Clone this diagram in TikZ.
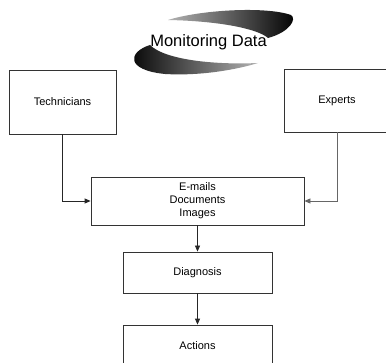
\documentclass[tikz,border=0pt]{standalone}
\usepackage{fontspec}
\setmainfont{Liberation Sans}
\usetikzlibrary{arrows.meta}
\begin{document}
\begin{tikzpicture}[x=1pt,y=1pt,
  box/.style={draw=black!80, line width=0.8pt, fill=white, inner sep=0pt, font=\fontsize{11}{13}\selectfont, align=center},
  conn/.style={line width=0.8pt, draw=black!85, -{Triangle[length=6pt,width=5pt]}},
  swoosh/.style={draw=none}]
\useasboundingbox (0,0) rectangle (386,362);
\clip (0,0) rectangle (386,362);
\fill[white] (0,0) rectangle (386,362);
% swoosh
\path[swoosh, left color=gray!60, middle color=white, right color=black]
  (168,342) .. controls (200,352) and (265,356) .. (291,347)
  .. controls (297,343) and (290,330) .. (268,324)
  .. controls (258,333) and (220,341) .. (168,342) -- cycle;
\path[swoosh, left color=black, middle color=white, right color=gray!60]
  (258,299) .. controls (215,297) and (165,302) .. (150,317)
  .. controls (128,310) and (125,292) .. (165,288)
  .. controls (200,286) and (235,292) .. (258,299) -- cycle;
\node[anchor=base, font=\fontsize{16.5}{18}\selectfont, inner sep=0pt] (title) at (208.5,315.5) {Monitoring Data};
% boxes
\node[box, minimum width=107pt, minimum height=64pt] (tech) at (62.5,260) {Technicians};
\node[box, minimum width=106pt, minimum height=63pt] (exp) at (337,261.5) {Experts};
\node[box, minimum width=213pt, minimum height=48pt] (mail) at (197.5,161) {E-mails\\Documents\\Images};
\node[box, minimum width=149pt, minimum height=41pt] (diag) at (197.5,89.5) {Diagnosis};
\node[box, minimum width=149pt, minimum height=41pt] (act) at (197.5,16.5) {Actions};
% connectors
\draw[conn] (tech.south) |- (mail.west);
\draw[conn, draw=black!60] (exp.south) |- (mail.east);
\draw[conn] (mail.south) -- (diag.north);
\draw[conn] (diag.south) -- (act.north);
\end{tikzpicture}
\end{document}
